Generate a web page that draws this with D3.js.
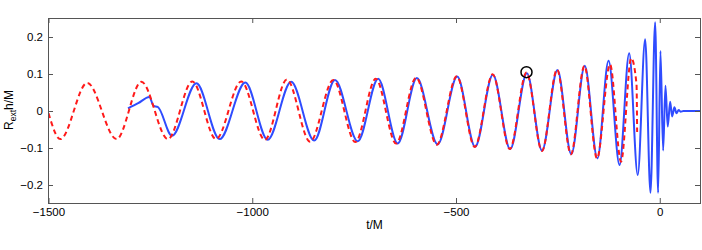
<!DOCTYPE html>
<html>
<head>
<meta charset="utf-8">
<script src="https://cdn.jsdelivr.net/npm/d3@7"></script>
<style>
  body { margin: 0; background: #fff; }
  text { font-family: "Liberation Sans", Arial, sans-serif; fill: #000; }
</style>
</head>
<body>
<div id="chart"></div>
<script>
// numerical relativity waveform: start, kink, then extrema
var nrTime = [-1305, -1280, -1252.5, -1242, -1232, -1197, -1137, -1080, -1017, -962, -904.5, -848, -797, -741,
  -691, -643, -596, -545, -497, -453, -409.5, -367, -326, -289, -251, -217, -184, -153, -125.6,
  -98.7, -75, -54, -35.8, -22.8, -11.3, -4, 1.7, 8.3, 14, 19.6, 25.5, 30.4, 36, 41, 46.5, 51, 58, 100];
var nrStrain = [0.007, 0.021, 0.038, 0.0135, 0.011, -0.067, 0.075, -0.076, 0.077, -0.078, 0.079, -0.080, 0.084, -0.082,
  0.087, -0.0875, 0.089, -0.090, 0.093, -0.0965, 0.098, -0.103, 0.102, -0.107, 0.111, -0.117, 0.122, -0.128, 0.1355,
  -0.146, 0.156, -0.173, 0.194, -0.221, 0.240, -0.221, 0.162, -0.107, 0.068, -0.042, 0.025, -0.015, 0.010, -0.006, 0.003, -0.002, 0, 0];

// post-Newtonian waveform
var pnTime = [-1500, -1471, -1405, -1333, -1272, -1207, -1147, -1089, -1027, -969, -915, -858, -801, -747,
  -697, -647, -598, -547, -498, -454, -410, -368, -327, -289, -252, -218, -185, -154, -122,
  -95, -70, -57, -55.5];
var pnStrain = [-0.006, -0.076, 0.076, -0.076, 0.079, -0.076, 0.080, -0.076, 0.080, -0.078, 0.085, -0.083, 0.084, -0.084,
  0.087, -0.088, 0.090, -0.091, 0.094, -0.097, 0.099, -0.103, 0.104, -0.108, 0.112, -0.117, 0.122, -0.128, 0.126,
  -0.137, 0.143, 0.072, -0.057];

var markerTime = [-327];
var markerStrain = [0.105];

var xTicks = [-1500, -1000, -500, 0];
var yTicks = [-0.2, -0.1, 0, 0.1, 0.2];

var width = 702, height = 250;
var plotLeft = 48.5, plotRight = 700.5, plotTop = 18.5, plotBottom = 203.5;

var svg = d3.select("#chart").append("svg")
  .attr("width", width)
  .attr("height", height);

var x = d3.scaleLinear().domain([-1500, 100]).range([plotLeft, plotRight]);
var y = d3.scaleLinear().domain([-0.25, 0.25]).range([plotBottom, plotTop]);

svg.append("clipPath").attr("id", "plot")
  .append("rect")
  .attr("x", plotLeft).attr("y", plotTop)
  .attr("width", plotRight - plotLeft).attr("height", plotBottom - plotTop);

var nrData = nrTime.map(function (t, i) { return [t, nrStrain[i]]; });
var pnData = pnTime.map(function (t, i) { return [t, pnStrain[i]]; });

var line = d3.line()
  .x(function (d) { return x(d[0]); })
  .y(function (d) { return y(d[1]); })
  .curve(d3.curveMonotoneX);

svg.append("path")
  .datum(nrData)
  .attr("clip-path", "url(#plot)")
  .attr("fill", "none")
  .attr("stroke", "#2f4cff")
  .attr("stroke-width", 2)
  .attr("d", line);

svg.append("path")
  .datum(pnData)
  .attr("clip-path", "url(#plot)")
  .attr("fill", "none")
  .attr("stroke", "#ff1a1a")
  .attr("stroke-width", 2)
  .attr("stroke-dasharray", "5,3.5")
  .attr("d", line);

svg.selectAll(".marker")
  .data(markerTime)
  .enter().append("circle")
  .attr("class", "marker")
  .attr("cx", function (d) { return x(d); })
  .attr("cy", function (d, i) { return y(markerStrain[i]); })
  .attr("r", 5.5)
  .attr("fill", "none")
  .attr("stroke", "#000")
  .attr("stroke-width", 1.5);

// axes: MATLAB style box with inward ticks
var fmt = function (d) { return d3.format("")(d); };
var axisColor = "#555";

function styleAxis(g) {
  g.select(".domain").remove();
  g.selectAll(".tick line").attr("stroke", axisColor);
  g.selectAll(".tick text").style("font-size", "11.5px").attr("fill", "#000");
}

svg.append("g")
  .attr("transform", "translate(0," + (plotBottom - 0.5) + ")")
  .call(d3.axisBottom(x).tickValues(xTicks).tickSizeInner(-5).tickSizeOuter(0).tickPadding(5).tickFormat(fmt))
  .call(styleAxis);

svg.append("g")
  .attr("transform", "translate(0," + (plotTop - 0.5) + ")")
  .call(d3.axisTop(x).tickValues(xTicks).tickSizeInner(-5).tickSizeOuter(0).tickFormat(""))
  .call(styleAxis);

svg.append("g")
  .attr("transform", "translate(" + (plotLeft - 0.5) + ",0)")
  .call(d3.axisLeft(y).tickValues(yTicks).tickSizeInner(-5).tickSizeOuter(0).tickPadding(5).tickFormat(fmt))
  .call(styleAxis);

svg.append("g")
  .attr("transform", "translate(" + (plotRight - 0.5) + ",0)")
  .call(d3.axisRight(y).tickValues(yTicks).tickSizeInner(-5).tickSizeOuter(0).tickFormat(""))
  .call(styleAxis);

svg.append("rect")
  .attr("x", plotLeft).attr("y", plotTop)
  .attr("width", plotRight - plotLeft).attr("height", plotBottom - plotTop)
  .attr("fill", "none")
  .attr("stroke", axisColor)
  .attr("stroke-width", 1);

// axis labels
svg.append("text")
  .attr("x", (plotLeft + plotRight) / 2)
  .attr("y", 229)
  .attr("text-anchor", "middle")
  .style("font-size", "12px")
  .text("t/M");

var ylab = svg.append("text")
  .attr("transform", "rotate(-90)")
  .attr("x", -110)
  .attr("y", 12.5)
  .attr("text-anchor", "middle")
  .style("font-size", "12px");
ylab.append("tspan").text("R");
ylab.append("tspan").attr("dy", 3).style("font-size", "8.5px").text("ext");
ylab.append("tspan").attr("dy", -3).text("h/M");
</script>
</body>
</html>
